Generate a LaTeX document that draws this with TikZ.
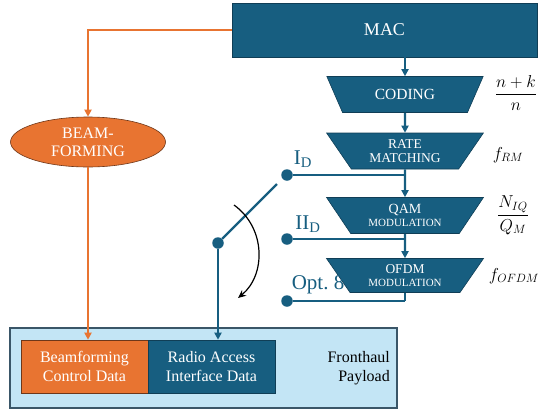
\documentclass[tikz,border=0pt]{standalone}
\usepackage{fontspec}
\setmainfont{Liberation Serif}
\usetikzlibrary{positioning,arrows.meta,shapes.geometric}

\definecolor{teal}{RGB}{23,94,128}
\definecolor{tealdark}{RGB}{16,62,86}
\definecolor{orng}{RGB}{232,116,49}
\definecolor{orngdark}{RGB}{110,55,25}
\definecolor{paleblue}{RGB}{195,229,245}
\definecolor{slate}{RGB}{58,86,104}

\newcommand{\fs}[1]{\fontsize{#1}{1.15\dimexpr#1pt\relax}\selectfont}

\begin{document}
\begin{tikzpicture}[
  x=1pt, y=-1pt,
  every node/.style={align=center, inner sep=1pt},
  blk/.style={rectangle, draw=tealdark, line width=0.6pt, fill=teal,
              text=white},
  stage/.style={trapezium, trapezium stretches=true, shape border rotate=180,
                trapezium left angle=54, trapezium right angle=54,
                draw=tealdark, line width=0.6pt, fill=teal, text=white,
                minimum width=157pt, minimum height=36pt, inner sep=0pt},
  obox/.style={rectangle, draw=orngdark, line width=0.6pt, fill=orng,
               text=white},
  tarr/.style={-{Triangle[length=7pt,width=7pt]}, draw=teal, line width=2.2pt},
  tline/.style={draw=teal, line width=2.2pt},
  oarr/.style={-{Triangle[length=7pt,width=7pt]}, draw=orng, line width=2.2pt},
  dot/.style={circle, fill=teal, minimum size=11.5pt, inner sep=0pt},
  optlbl/.style={text=teal, font=\fs{21}},
  rate/.style={font=\fs{18}}
]
\useasboundingbox (0,0) rectangle (538,416);

% MAC block across the top
\node[blk, minimum width=305pt, minimum height=54pt, font=\fs{18}]
  (mac) at (384.5,30) {MAC};

% processing chain
\node[stage, font=\fs{15.5}] (coding) at (405,94.5) {CODING};
\node[stage, font=\fs{13.5}] (ratem) at (405,151) {RATE\\[-2pt]MATCHING};
\node[stage, font=\fs{14}] (qam) at (405,215.5)
  {QAM\\[-3pt]{\fs{11}MODULATION}};
\node[stage, font=\fs{13.5}, minimum height=34pt] (ofdm) at (405,275.5)
  {OFDM\\[-3pt]{\fs{11}MODULATION}};

% rate factors on the right
\node[rate] (fcod) at (516,93)  {$\displaystyle\frac{n+k}{n}$};
\node[rate] (frm)  at (508,155) {$f_{RM}$};
\node[rate] (fqam) at (513,215) {$\displaystyle\frac{N_{IQ}}{Q_M}$};
\node[rate] (fofd) at (514,276) {$f_{OFDM}$};

% beamforming branch
\node[ellipse, draw=orngdark, line width=0.6pt, fill=orng, text=white,
      minimum width=155pt, minimum height=50pt, inner sep=0pt, font=\fs{16}]
  (beam) at (88,142) {BEAM-\\FORMING};

% fronthaul payload
\node[rectangle, draw=slate, line width=1.2pt, fill=paleblue,
      minimum width=387pt, minimum height=80pt] (payload) at (203.5,368) {};
\node[obox, minimum width=127pt, minimum height=53pt, font=\fs{16}]
  (bfdata) at (84.5,366.5) {Beamforming\\Control Data};
\node[blk, minimum width=127pt, minimum height=53pt, font=\fs{16}]
  (radata) at (211.5,366.5) {Radio Access\\Interface Data};
\node[font=\fs{16}, align=right, anchor=east] (fhlbl) at (391,368)
  {Fronthaul\\Payload};

% split option taps
\node[dot] (tapa) at (287,175) {};
\node[dot] (tapb) at (287,239) {};
\node[dot] (tapc) at (287,301) {};
\node[optlbl] (lbla) at (303,159) {I\textsubscript{D}};
\node[optlbl] (lblb) at (308,224) {II\textsubscript{D}};
\node[optlbl] (lblc) at (318,285) {Opt.~8};

% switch
\node[dot] (pivot) at (218,243) {};
\coordinate (swend) at (277,184);
\coordinate (rotA) at (234,205);
\coordinate (rotB) at (238,298);

% chain arrows
\draw[tarr] (mac.south -| coding.north) -- (coding.north);
\draw[tarr] (coding.south) -- (ratem.north);
\draw[tarr] (ratem.south) -- (qam.north);
\draw[tarr] (qam.south) -- (ofdm.north);
\draw[tline] (ofdm.south) -- (ofdm.south |- tapc);

\draw[tline] (tapa) -- (tapa -| ratem.south);
\draw[tline] (tapb) -- (tapb -| qam.south);
\draw[tline] (tapc) -- (tapc -| ofdm.south);

\draw[tline] (pivot) -- (swend);
\draw[tarr] (pivot) -- (pivot |- radata.north);
\draw[-{Stealth[length=8pt,width=7pt]}, line width=1.2pt]
  (rotA) .. controls (266,228) and (266,275) .. (rotB);

% beamforming path
\draw[oarr] (mac.west) -| (beam.north);
\draw[oarr] (beam.south) -- (beam.south |- bfdata.north);
\end{tikzpicture}
\end{document}
